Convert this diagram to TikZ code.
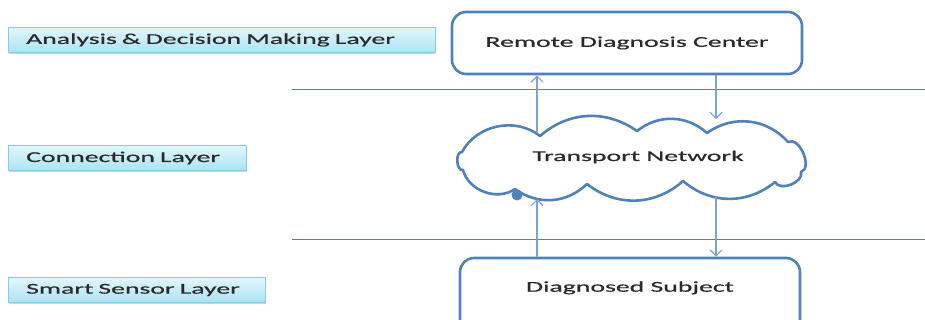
\documentclass[tikz,border=0pt]{standalone}
\usepackage{fontspec}
\setmainfont{Carlito}[FakeStretch=1.85,FakeBold=0.6]
\usetikzlibrary{arrows.meta,shadows}
\definecolor{boxblue}{HTML}{4F81BD}
\definecolor{linkblue}{HTML}{7BA3D4}
\definecolor{layerline}{HTML}{86CDE3}
\definecolor{layertop}{HTML}{E2F6FC}
\definecolor{layerbot}{HTML}{ABE3F5}
\definecolor{inktext}{HTML}{2A2A2A}
\begin{document}
\begin{tikzpicture}[x=1pt,y=-1pt,
  every node/.style={text=inktext,font=\fontsize{15}{18}\selectfont},
  layer/.style={draw=layerline,top color=layertop,bottom color=layerbot,
    anchor=west,minimum height=25pt,inner xsep=18pt,align=left,
    drop shadow={shadow xshift=1pt,shadow yshift=-1.5pt,opacity=.35}},
  site/.style={draw=boxblue,line width=2.6pt,rounded corners=14pt,fill=white},
  puffs/.style={draw=boxblue,line width=2.6pt,fill=white,line join=round},
  flow/.style={draw=linkblue,line width=1.2pt,-{Straight Barb[length=6pt,width=12pt]}},
  divider/.style={draw=boxblue,line width=.9pt}]
  \useasboundingbox (0,0) rectangle (925,320);

  % layers
  \node[layer,text width=391pt] (ana) at (8,40) {Analysis \& Decision Making Layer};
  \node[layer,text width=202pt] (con) at (8,158) {Connection Layer};
  \node[layer,text width=221pt] (sen) at (8,290) {Smart Sensor Layer};

  % dividers
  \coordinate (d1a) at (292,89);
  \coordinate (d1b) at (925,89);
  \coordinate (d2a) at (292,239);
  \coordinate (d2b) at (925,239);
  \path[divider] (d1a) -- (d1b);
  \path[divider] (d2a) -- (d2b);

  % blocks
  \node[site,minimum width=350pt,minimum height=62pt] (rdc) at (627,43) {Remote Diagnosis Center};
  \path[puffs] (462,152) to[bend left=50] (540,136) to[bend left=38] (637,131)
    to[bend left=40] (707,133) to[bend left=42] (788,142) to[bend left=95] (801,172)
    to[bend left=85] (775,182) to[bend left=40] (683,181) to[bend left=40] (587,184)
    to[bend left=40] (515,189) to[bend left=55] (463,170) to[bend left=100] cycle;
  \node (tn) at (638,157) {Transport Network};
  \fill[boxblue] (517,195) circle (5.5pt);
  \node[site,minimum width=340pt,minimum height=77pt,text depth=20pt] (sub) at (630,296.5) {Diagnosed Subject};

  % links
  \coordinate (tnup) at (537,133);
  \coordinate (tndn) at (716,119);
  \coordinate (tnlo) at (537,199);
  \coordinate (tnout) at (716,197);
  \path[flow] (tnup) -- (rdc.south -| tnup);
  \path[flow] (rdc.south -| tndn) -- (tndn);
  \path[flow] (sub.north -| tnlo) -- (tnlo);
  \path[flow] (tnout) -- (sub.north -| tnout);
\end{tikzpicture}
\end{document}
